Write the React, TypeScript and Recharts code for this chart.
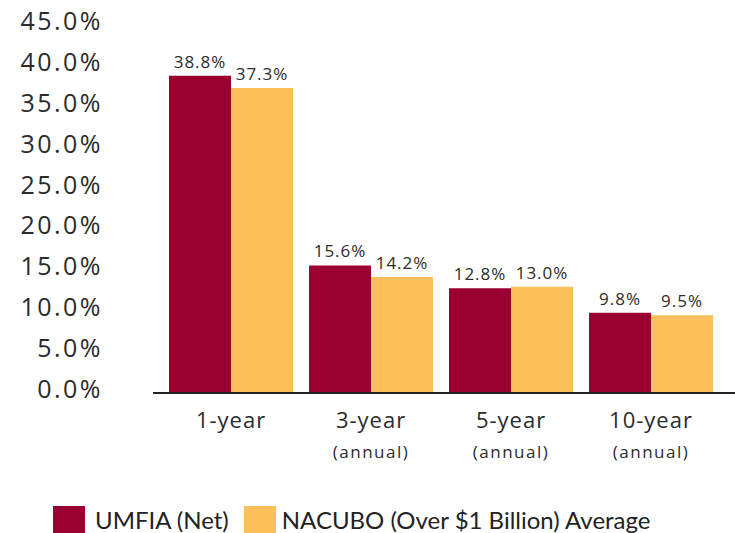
import { Bar, BarChart, LabelList, XAxis, YAxis } from "recharts";

const categories = ["1-year", "3-year", "5-year", "10-year"];
const subLabels = ["", "(annual)", "(annual)", "(annual)"];
const umfia = [38.8, 15.6, 12.8, 9.8];
const nacubo = [37.3, 14.2, 13.0, 9.5];
const yTicks = [0, 5, 10, 15, 20, 25, 30, 35, 40, 45];

const MAROON = "#990030";
const GOLD = "#FDBF59";
const INK = "#2b2b2b";
const FONT = "'Open Sans', Lato, sans-serif";

const data = categories.map((name, i) => ({
  name,
  sub: subLabels[i],
  umfia: umfia[i],
  nacubo: nacubo[i],
}));

function YTick({ y, payload }: { y?: number; payload?: { value: number } }) {
  return (
    <text
      x={103}
      y={(y ?? 0) - 4}
      dy="0.36em"
      textAnchor="end"
      fill={INK}
      fontSize={25}
      letterSpacing={2.5}
      fontFamily={FONT}
    >
      {`${payload?.value.toFixed(1)}%`}
    </text>
  );
}

function XTick({ x, y, payload }: { x?: number; y?: number; payload?: { value: string; index: number } }) {
  const sub = subLabels[payload?.index ?? 0];
  return (
    <g>
      <text x={x} y={(y ?? 0) + 27} textAnchor="middle" fill={INK} fontSize={22} letterSpacing={1} fontFamily={FONT}>
        {payload?.value}
      </text>
      {sub && (
        <text x={x} y={(y ?? 0) + 57} textAnchor="middle" fill={INK} fontSize={17} letterSpacing={1.5} fontFamily={FONT}>
          {sub}
        </text>
      )}
    </g>
  );
}

const pct = (v: unknown) => `${Number(v).toFixed(1)}%`;

export default function App() {
  return (
    <div style={{ position: "absolute", left: 0, top: 0, width: 735, height: 533, background: "#fff", overflow: "hidden" }}>
      <BarChart
        width={735}
        height={533}
        data={data}
        margin={{ top: 25, right: 0, bottom: 0, left: 0 }}
        barGap={0}
        barCategoryGap={8}
      >
        <XAxis
          dataKey="name"
          height={140}
          tick={<XTick />}
          tickLine={false}
          axisLine={{ stroke: "#222", strokeWidth: 2 }}
          padding={{ left: 8, right: 14 }}
          interval={0}
        />
        <YAxis
          width={153}
          domain={[0, 45]}
          ticks={yTicks}
          tick={<YTick />}
          axisLine={false}
          tickLine={false}
          interval={0}
        />
        <Bar dataKey="umfia" fill={MAROON} isAnimationActive={false}>
          <LabelList
            dataKey="umfia"
            position="top"
            offset={8}
            formatter={pct}
            style={{ fill: INK, fontSize: 17, letterSpacing: 1, fontFamily: FONT }}
          />
        </Bar>
        <Bar dataKey="nacubo" fill={GOLD} isAnimationActive={false}>
          <LabelList
            dataKey="nacubo"
            position="top"
            offset={8}
            formatter={pct}
            style={{ fill: INK, fontSize: 17, letterSpacing: 1, fontFamily: FONT }}
          />
        </Bar>
      </BarChart>
      <div
        style={{
          position: "absolute",
          left: 53,
          top: 505,
          display: "flex",
          alignItems: "center",
          fontFamily: "Lato, sans-serif",
          fontSize: 24,
          color: "#222",
          whiteSpace: "nowrap",
        }}
      >
        <span style={{ width: 32, height: 28, background: MAROON, display: "inline-block" }} />
        <span style={{ marginLeft: 10, marginRight: 15 }}>UMFIA (Net)</span>
        <span style={{ width: 32, height: 28, background: GOLD, display: "inline-block" }} />
        <span style={{ marginLeft: 6 }}>NACUBO (Over $1 Billion) Average</span>
      </div>
    </div>
  );
}
